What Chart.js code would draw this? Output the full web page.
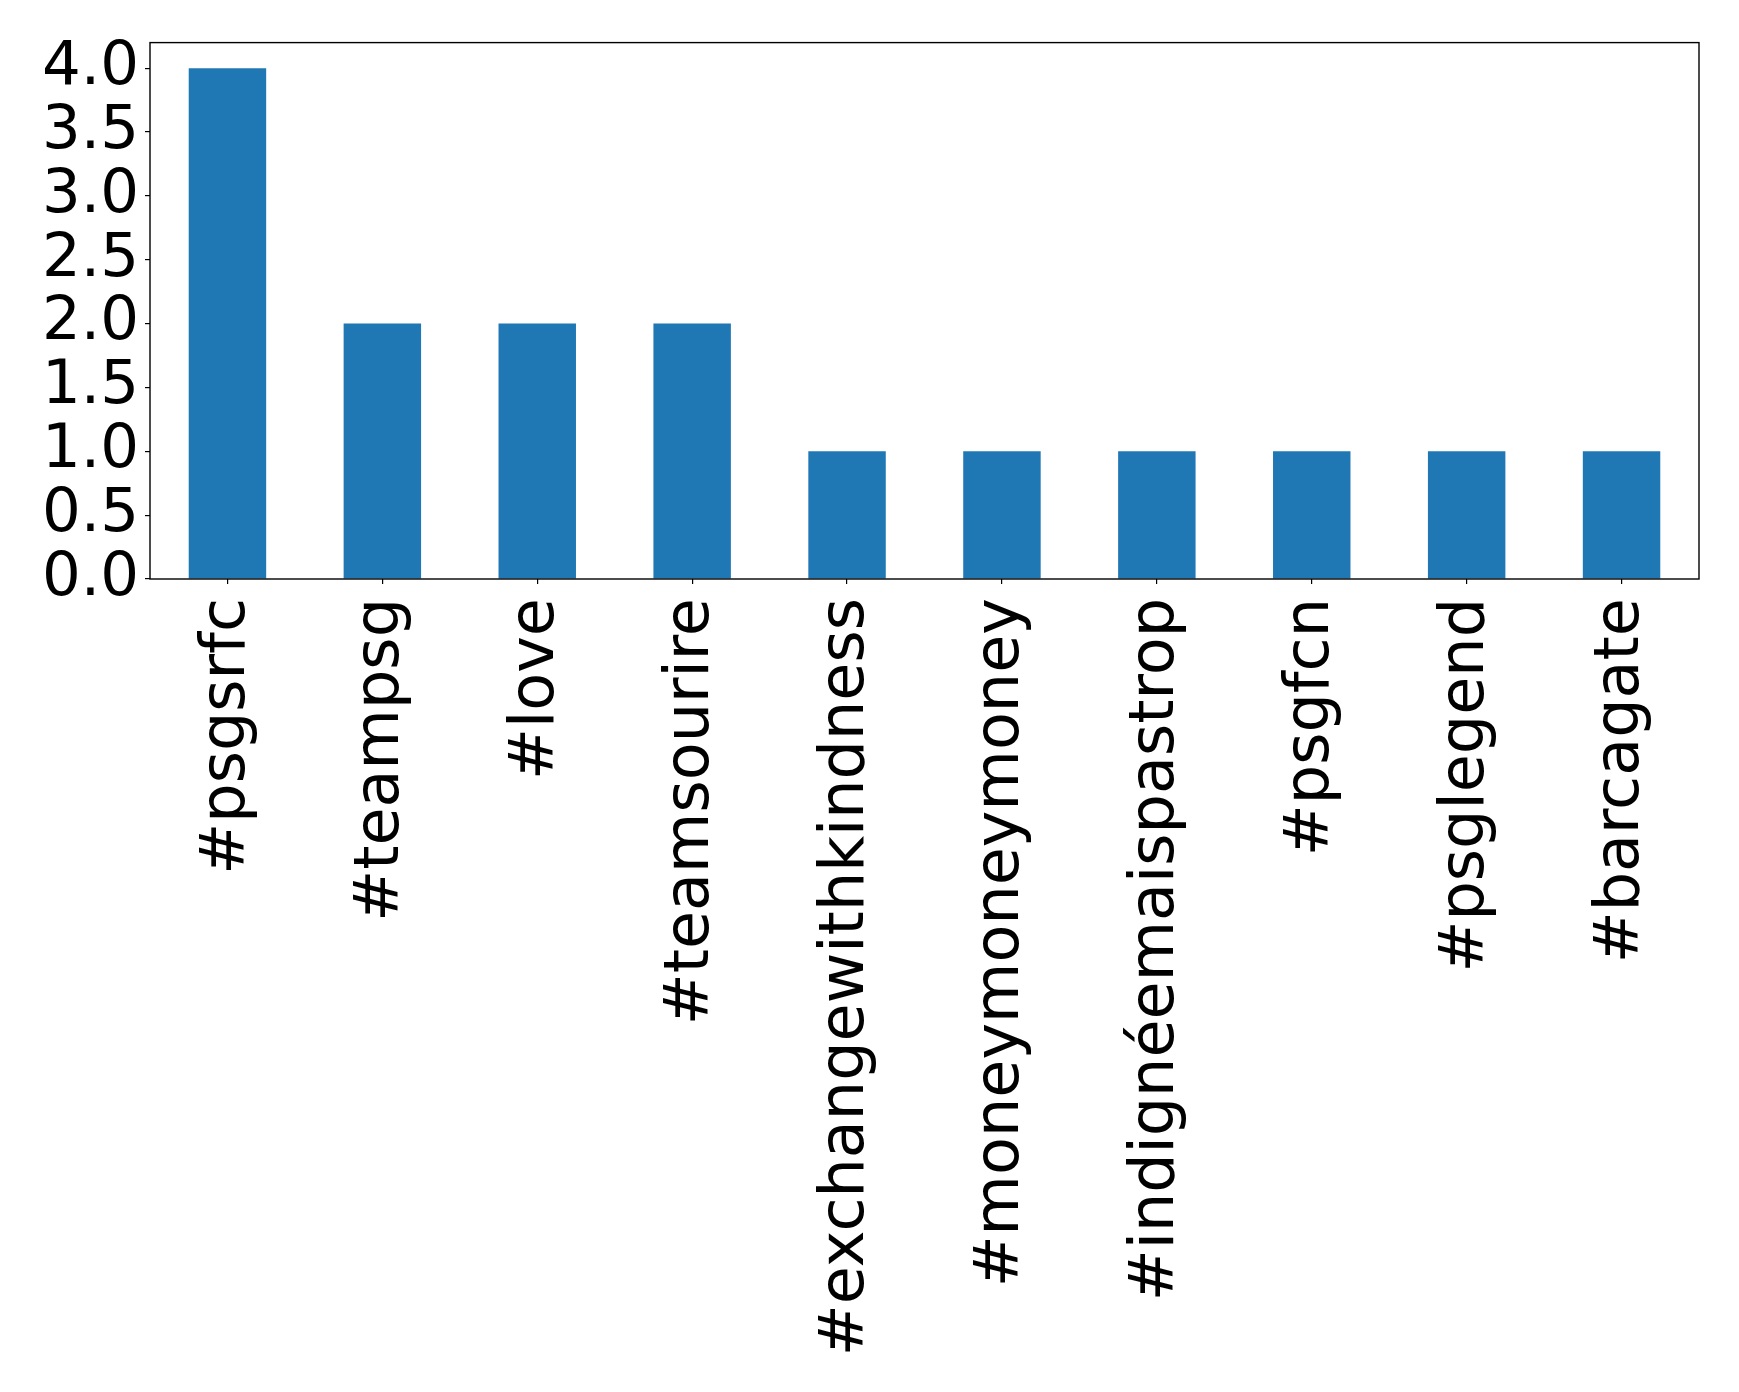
<!DOCTYPE html>
<html>
<head>
<meta charset="utf-8">
<script src="https://cdn.jsdelivr.net/npm/chart.js@4/dist/chart.umd.min.js"></script>
<style>
  html, body { margin: 0; padding: 0; background: #fff; }
  #wrap { width: 1739px; height: 1392px; }
</style>
</head>
<body>
<div id="wrap"><canvas id="chart"></canvas></div>
<script>
// hashtag counts
const hashtags = ['#psgsrfc', '#teampsg', '#love', '#teamsourire', '#exchangewithkindness',
  '#moneymoneymoney', '#indignéemaispastrop', '#psgfcn', '#psglegend', '#barcagate'];
const counts = [4, 2, 2, 2, 1, 1, 1, 1, 1, 1];
const yTicks = [0, 0.5, 1, 1.5, 2, 2.5, 3, 3.5, 4];

// matplotlib-style box round the plot area
const boxPlugin = {
  id: 'box',
  afterDraw(chart) {
    const { ctx, chartArea: a } = chart;
    ctx.save();
    ctx.strokeStyle = '#000';
    ctx.lineWidth = 1.4;
    ctx.strokeRect(a.left, a.top, a.right - a.left, a.bottom - a.top);
    ctx.restore();
  }
};

new Chart(document.getElementById('chart'), {
  type: 'bar',
  data: {
    labels: hashtags,
    datasets: [{
      data: counts,
      backgroundColor: '#1f77b4',
      barPercentage: 0.5,
      categoryPercentage: 1
    }]
  },
  options: {
    responsive: true,
    maintainAspectRatio: false,
    animation: false,
    layout: { padding: { top: 40, right: 40, left: 0, bottom: 0 } },
    plugins: { legend: { display: false }, tooltip: { enabled: false } },
    scales: {
      x: {
        offset: true,
        grid: { offset: false, drawOnChartArea: false, drawTicks: true, tickLength: 5, color: '#000', lineWidth: 1.2 },
        border: { display: false },
        ticks: { font: { family: 'DejaVu Sans', size: 62 }, color: '#000', maxRotation: 90, minRotation: 90, autoSkip: false, padding: 14 },
        afterFit: s => { s.height = 813; }
      },
      y: {
        min: 0,
        max: 4.2,
        grid: { drawOnChartArea: false, drawTicks: true, tickLength: 5, color: '#000', lineWidth: 1.2 },
        border: { display: false },
        ticks: { font: { family: 'DejaVu Sans', size: 61 }, color: '#000', padding: 6, autoSkip: false, callback: v => v.toFixed(1) },
        afterBuildTicks: s => { s.ticks = yTicks.map(v => ({ value: v })); },
        afterFit: s => { s.width = 150; }
      }
    }
  },
  plugins: [boxPlugin]
});
</script>
</body>
</html>
